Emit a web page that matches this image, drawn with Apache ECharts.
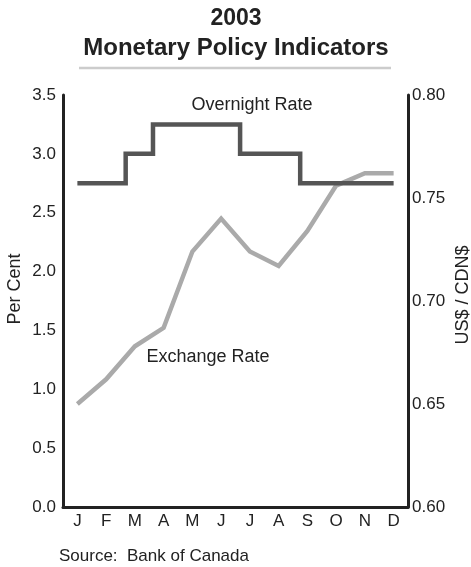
<!DOCTYPE html>
<html>
<head>
<meta charset="utf-8">
<script src="https://cdn.jsdelivr.net/npm/echarts@6/dist/echarts.min.js"></script>
<style>
html,body{margin:0;padding:0;background:#fff;}
#c{width:471px;height:567px;}
</style>
</head>
<body>
<div id="c"></div>
<script>
const months = ['J','F','M','A','M','J','J','A','S','O','N','D'];
const exchangeRate = [0.650, 0.662, 0.678, 0.687, 0.724, 0.740, 0.724, 0.717, 0.734, 0.756, 0.762, 0.762];
// overnight rate: position (in month index) where each level starts, and the level
const overnightStart = [0, 1.68, 2.63, 5.66, 7.75, 11];
const overnightLevel = [2.75, 3.00, 3.25, 3.00, 2.75, 2.75];
const leftTicks = [0, 3.5, 0.5];
const rightTicks = [0.60, 0.80, 0.05];

const FONT = 'Liberation Sans, Arial, Helvetica, sans-serif';
const chart = echarts.init(document.getElementById('c'), null, {renderer: 'canvas'});

const overnightData = overnightStart.map((x, i) => [x, overnightLevel[i]]);

chart.setOption({
  animation: false,
  backgroundColor: '#fff',
  textStyle: {fontFamily: FONT},
  grid: {left: 63, right: 63, top: 95, bottom: 60},
  graphic: [
    {type: 'text', x: 236, y: 19, style: {text: '2003', font: 'bold 23px ' + FONT, fill: '#222', align: 'center', verticalAlign: 'middle'}},
    {type: 'text', x: 236, y: 48, style: {text: 'Monetary Policy Indicators', font: 'bold 24px ' + FONT, fill: '#222', align: 'center', verticalAlign: 'middle'}},
    {type: 'line', shape: {x1: 79, y1: 68, x2: 391, y2: 68}, style: {stroke: '#cccccc', lineWidth: 2.5}},
    {type: 'text', x: 252, y: 105, style: {text: 'Overnight Rate', font: '18px ' + FONT, fill: '#222', align: 'center', verticalAlign: 'middle'}},
    {type: 'text', x: 208, y: 357, style: {text: 'Exchange Rate', font: '18px ' + FONT, fill: '#222', align: 'center', verticalAlign: 'middle'}},
    {type: 'text', x: 15, y: 289, rotation: Math.PI / 2, style: {text: 'Per Cent', font: '18px ' + FONT, fill: '#222', align: 'center', verticalAlign: 'middle'}},
    {type: 'text', x: 463, y: 295, rotation: Math.PI / 2, style: {text: 'US$ / CDN$', font: '18px ' + FONT, fill: '#222', align: 'center', verticalAlign: 'middle'}},
    {type: 'text', x: 59, y: 556, style: {text: 'Source:  Bank of Canada', font: '17px ' + FONT, fill: '#222', verticalAlign: 'middle'}}
  ],
  xAxis: [
    {
      type: 'category', data: months, boundaryGap: true,
      axisLine: {show: true, onZero: false, lineStyle: {color: '#222', width: 3}},
      axisTick: {show: false},
      axisLabel: {color: '#222', fontSize: 17, fontFamily: FONT, margin: 6},
      splitLine: {show: false}
    },
    {
      type: 'value', min: -0.5, max: 11.5, show: false, splitLine: {show: false},
      axisLine: {onZero: false}
    }
  ],
  yAxis: [
    {
      type: 'value', min: leftTicks[0], max: leftTicks[1], interval: leftTicks[2], position: 'left',
      axisLine: {show: true, onZero: false, lineStyle: {color: '#222', width: 3}},
      axisTick: {show: false},
      splitLine: {show: false},
      axisLabel: {color: '#222', fontSize: 17, fontFamily: FONT, margin: 7, formatter: v => v.toFixed(1)}
    },
    {
      type: 'value', min: rightTicks[0], max: rightTicks[1], interval: rightTicks[2], position: 'right',
      axisLine: {show: true, onZero: false, lineStyle: {color: '#222', width: 3}},
      axisTick: {show: false},
      splitLine: {show: false},
      axisLabel: {color: '#222', fontSize: 17, fontFamily: FONT, margin: 4, formatter: v => v.toFixed(2)}
    }
  ],
  series: [
    {
      name: 'Exchange Rate', type: 'line', xAxisIndex: 0, yAxisIndex: 1,
      data: exchangeRate, symbol: 'none',
      lineStyle: {color: '#aaaaaa', width: 4.5, cap: 'butt', join: 'miter'}
    },
    {
      name: 'Overnight Rate', type: 'line', xAxisIndex: 1, yAxisIndex: 0,
      data: overnightData, step: 'end', symbol: 'none',
      lineStyle: {color: '#555555', width: 4.5, cap: 'butt', join: 'miter'}
    }
  ]
});
</script>
</body>
</html>
